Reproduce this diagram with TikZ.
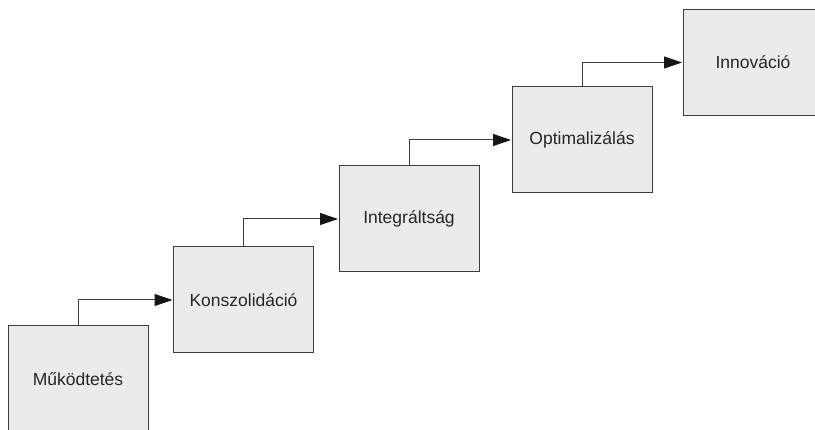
\documentclass[tikz,border=0pt]{standalone}
\usepackage{fontspec}
\setmainfont{Liberation Sans}
\usepackage{xcolor}
\usepackage{tikz}
\usetikzlibrary{positioning,arrows.meta}
\definecolor{BoxFill}{HTML}{EBEBEB}
\definecolor{BoxLine}{HTML}{3C3C3C}
\definecolor{TextDark}{HTML}{262626}
\definecolor{TipDark}{HTML}{161616}
\tikzset{
  stagebox/.style={draw=BoxLine, fill=BoxFill, line width=1pt,
    minimum width=140pt, minimum height=106pt, inner sep=0pt,
    text=TextDark, font=\fontsize{17.5}{21}\selectfont},
  stageflow/.style={draw=BoxLine, line width=1pt,
    -{Triangle[length=18pt,width=12pt,color=TipDark]}, shorten >=0.5pt}
}
\begin{document}
\begin{tikzpicture}[x=1pt,y=-1pt]
        \clip (0,0) rectangle (815,430);
        \useasboundingbox (0,0) rectangle (815,430);
        % the five steps of the staircase
        \node[stagebox] (mukodtetes)    at (78,379)  {Működtetés};
        \node[stagebox] (konszolidacio) at (243.5,300) {Konszolidáció};
        \node[stagebox] (integraltsag)  at (409,219) {Integráltság};
        \node[stagebox] (optimalizalas) at (582,140) {Optimalizálás};
        \node[stagebox] (innovacio)     at (753,62.5) {Innováció};
        % connectors
        \draw[stageflow] (mukodtetes.north) |- (konszolidacio.west);
        \draw[stageflow] (konszolidacio.north) |- (integraltsag.west);
        \draw[stageflow] (integraltsag.north) |- (optimalizalas.west);
        \draw[stageflow] (optimalizalas.north) |- (innovacio.west);
      \end{tikzpicture}
\end{document}
